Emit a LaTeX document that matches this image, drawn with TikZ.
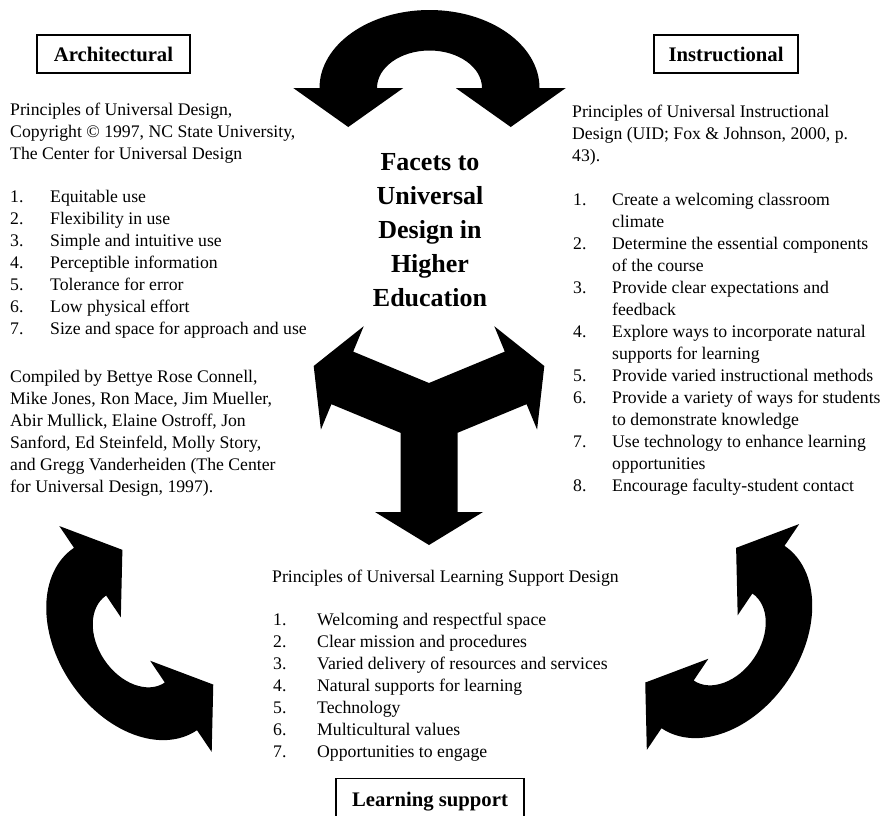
\documentclass[tikz,border=0pt]{standalone}
\usepackage{fontspec}
\setmainfont{Liberation Serif}
\newcommand\bodyfont{\fontsize{17.7pt}{22pt}\selectfont}
\newcommand\boxfont{\fontsize{20.7pt}{24pt}\selectfont\bfseries}
\newcommand\titlefont{\fontsize{26pt}{34pt}\selectfont\bfseries}
\tikzset{
  curvarrow/.pic={
    \fill[black] (-136.25,0) -- (-81.25,39) -- (-26.25,0) -- (-52.5,0)
      .. controls (-52.5,-20.71) and (-29,-37.5) .. (0,-37.5)
      .. controls (29,-37.5) and (52.5,-20.71) .. (52.5,0)
      -- (26.25,0) -- (81.25,39) -- (136.25,0) -- (110,0)
      .. controls (110,-43.08) and (60.75,-78) .. (0,-78)
      .. controls (-60.75,-78) and (-110,-43.08) .. (-110,0)
      -- cycle;
  }
}
\begin{document}
\begin{tikzpicture}[x=1pt,y=-1pt,
  txt/.style={anchor=base west,inner sep=0pt,font=\bodyfont},
  ttl/.style={anchor=base,inner sep=0pt,font=\titlefont},
  facet/.style={draw=black,line width=1.2pt,font=\boxfont,inner sep=0pt,minimum height=38pt}]
\useasboundingbox (0,0) rectangle (883,815);
\fill[white] (0,0) rectangle (883,815);

% ---------- curved arrows ----------
\pic at (429.5,88) {curvarrow};
\pic[rotate=124] at (135.5,639) {curvarrow};
\pic[rotate=-124] at (723,637) {curvarrow};

% ---------- three-way arrow ----------
\fill[black] (429,383) -- (353.2,351.6) -- (363.7,326.2) -- (313.7,366) -- (320.9,429.6)
  -- (331.4,404.2) -- (400.5,432.8) -- (400.5,512) -- (375,512) -- (429,545)
  -- (483,512) -- (457.5,512) -- (457.5,432.8) -- (526.6,404.2) -- (537.1,429.6)
  -- (544.3,366) -- (494.3,326.2) -- (504.8,351.6) -- cycle;

% ---------- facet boxes ----------
\node[facet,minimum width=153pt] (arch) at (113.5,54) {Architectural};
\node[facet,minimum width=144pt] (instr) at (726,54) {Instructional};
\begin{scope}
\clip (0,0) rectangle (883,815);
\node[facet,minimum width=188pt,minimum height=46pt,anchor=north] (learn) at (430,778) {Learning support};
\end{scope}

% ---------- title ----------
\node[ttl] (t1) at (430,170) {Facets to};
\node[ttl] (t2) at (430,204) {Universal};
\node[ttl] (t3) at (430,238) {Design in};
\node[ttl] (t4) at (430,272) {Higher};
\node[ttl] (t5) at (430,306) {Education};

% ---------- left (architectural) text ----------
\foreach \t [count=\i] in {{Principles of Universal Design,},{Copyright © 1997, NC State University,},{The Center for Universal Design}}
  \node[txt] (ah\i) at (10,{115.5+22*(\i-1)}) {\t};
\foreach \t [count=\i] in {Equitable use,Flexibility in use,Simple and intuitive use,Perceptible information,Tolerance for error,Low physical effort,Size and space for approach and use}{
  \node[txt] (an\i) at (10,{202.5+22*(\i-1)}) {\i.};
  \node[txt] (ai\i) at (50,{202.5+22*(\i-1)}) {\t};
}
\foreach \t [count=\i] in {{Compiled by Bettye Rose Connell,},{Mike Jones, Ron Mace, Jim Mueller,},{Abir Mullick, Elaine Ostroff, Jon},{Sanford, Ed Steinfeld, Molly Story,},{and Gregg Vanderheiden (The Center},{for Universal Design, 1997).}}
  \node[txt] (ac\i) at (10,{382+22*(\i-1)}) {\t};

% ---------- right (instructional) text ----------
\foreach \t [count=\i] in {{Principles of Universal Instructional},{Design (UID; Fox \& Johnson, 2000, p.},{43).}}
  \node[txt] (ih\i) at (572,{117.5+22.2*(\i-1)}) {\t};
\node[txt] (in1) at (573,205) {1.};
\node[txt] (ii1) at (612,205) {Create a welcoming classroom};
\node[txt] (ii1b) at (612,227) {climate};
\node[txt] (in2) at (573,249) {2.};
\node[txt] (ii2) at (612,249) {Determine the essential components};
\node[txt] (ii2b) at (612,271) {of the course};
\node[txt] (in3) at (573,293) {3.};
\node[txt] (ii3) at (612,293) {Provide clear expectations and};
\node[txt] (ii3b) at (612,315) {feedback};
\node[txt] (in4) at (573,337) {4.};
\node[txt] (ii4) at (612,337) {Explore ways to incorporate natural};
\node[txt] (ii4b) at (612,359) {supports for learning};
\node[txt] (in5) at (573,381) {5.};
\node[txt] (ii5) at (612,381) {Provide varied instructional methods};
\node[txt] (in6) at (573,403) {6.};
\node[txt] (ii6) at (612,403) {Provide a variety of ways for students};
\node[txt] (ii6b) at (612,425) {to demonstrate knowledge};
\node[txt] (in7) at (573,447) {7.};
\node[txt] (ii7) at (612,447) {Use technology to enhance learning};
\node[txt] (ii7b) at (612,469) {opportunities};
\node[txt] (in8) at (573,491) {8.};
\node[txt] (ii8) at (612,491) {Encourage faculty-student contact};

% ---------- bottom (learning support) text ----------
\node[txt] (lh) at (272,582) {Principles of Universal Learning Support Design};
\foreach \t [count=\i] in {Welcoming and respectful space,Clear mission and procedures,Varied delivery of resources and services,Natural supports for learning,Technology,Multicultural values,Opportunities to engage}{
  \node[txt] (ln\i) at (273,{625+22*(\i-1)}) {\i.};
  \node[txt] (li\i) at (317,{625+22*(\i-1)}) {\t};
}
\end{tikzpicture}
\end{document}
